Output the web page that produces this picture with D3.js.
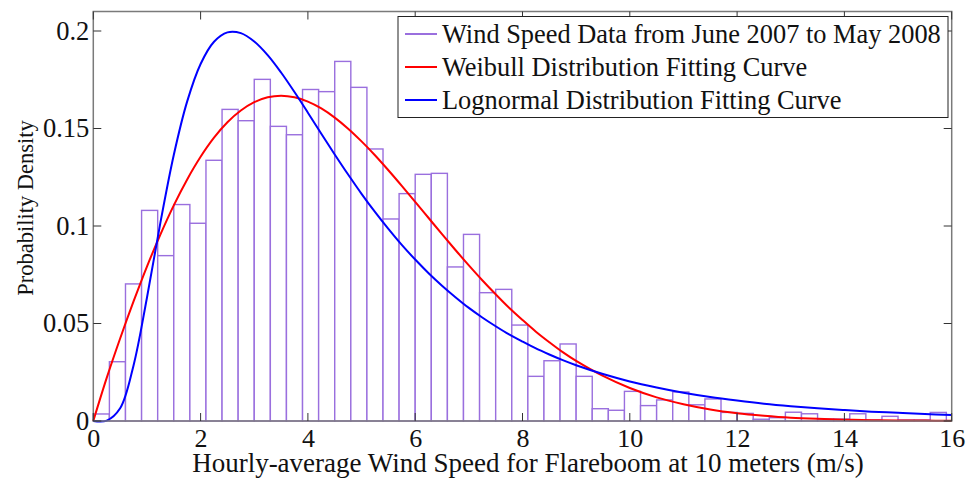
<!DOCTYPE html>
<html>
<head>
<meta charset="utf-8">
<script src="https://cdn.jsdelivr.net/npm/d3@7"></script>
<style>
  body { margin: 0; background: #fff; }
  text { font-family: "Liberation Serif", "Times New Roman", serif; fill: #111; }
</style>
</head>
<body>
<div id="chart"></div>
<script>

// histogram: bins of 0.3 m/s starting at 0
let binWidth = 0.3;
let binDensity = [
  0.0036, 0.0304, 0.0703, 0.108, 0.0848, 0.111, 0.1014, 0.1337, 0.1598, 0.154,
  0.1752, 0.1511, 0.1468, 0.170, 0.1689, 0.1844, 0.1711, 0.1395, 0.1036, 0.1166,
  0.1265, 0.127, 0.079, 0.0957, 0.0658, 0.0675, 0.0492, 0.0229, 0.0309, 0.0395,
  0.0229, 0.0063, 0.0055, 0.0152, 0.0079, 0.0108, 0.0149, 0.0083, 0.0113, 0.0044,
  0.0039, 0.0009, 0.0017, 0.0045, 0.0037, 0.0010, 0.0010, 0.0037, 0.0005, 0.0024,
  0.0005, 0.0005, 0.0044
];

// fitted curves
let curveX = [
  0, 0.25, 0.5, 0.75, 1, 1.25, 1.5, 1.75, 2, 2.25, 2.5, 2.75, 3, 3.25, 3.5, 3.75,
  4, 4.25, 4.5, 4.75, 5, 5.25, 5.5, 5.75, 6, 6.25, 6.5, 6.75, 7, 7.25, 7.5, 7.75,
  8, 8.25, 8.5, 8.75, 9, 9.5, 10, 10.5, 11, 11.5, 12, 12.5, 13, 13.5, 14, 14.5,
  15, 15.5, 16
];
let weibullY = [
  0, 0.0221, 0.0423, 0.0613, 0.0792, 0.0956, 0.1106, 0.1239, 0.1355, 0.1453, 0.1532, 0.1592, 0.1635, 0.1660, 0.1668, 0.1660,
  0.1638, 0.1603, 0.1556, 0.1499, 0.1434, 0.1363, 0.1286, 0.1206, 0.1124, 0.1041, 0.0958, 0.0877, 0.0798, 0.0722, 0.0650, 0.0581,
  0.0518, 0.0458, 0.0404, 0.0353, 0.0308, 0.0231, 0.0169, 0.0121, 0.0086, 0.0059, 0.0040, 0.0027, 0.0017, 0.0011, 0.0007, 0.0004,
  0.0003, 0.0002, 0.0001
];
let lognormY = [
  0, 0.0002, 0.0065, 0.0285, 0.0632, 0.1016, 0.1364, 0.1639, 0.1831, 0.1945, 0.1993, 0.1989, 0.1946, 0.1876, 0.1787, 0.1687,
  0.1581, 0.1473, 0.1367, 0.1264, 0.1165, 0.1072, 0.0985, 0.0903, 0.0828, 0.0758, 0.0694, 0.0635, 0.0580, 0.0531, 0.0486, 0.0444,
  0.0407, 0.0372, 0.0341, 0.0312, 0.0286, 0.0241, 0.0203, 0.0172, 0.0145, 0.0123, 0.0105, 0.0089, 0.0076, 0.0065, 0.0056, 0.0048,
  0.0042, 0.0036, 0.0031
];

let xTicks = [0, 2, 4, 6, 8, 10, 12, 14, 16];
let yTicks = [0, 0.05, 0.1, 0.15, 0.2];
let yTickLabels = ["0", "0.05", "0.1", "0.15", "0.2"];

let legendLabels = [
  "Wind Speed Data from June 2007 to May 2008",
  "Weibull Distribution Fitting Curve",
  "Lognormal Distribution Fitting Curve"
];
let histColor = "#9a6fde";
let legendColors = [histColor, "#ff0000", "#0000ff"];

let width = 969, height = 480;
let plot = {left: 93.3, right: 951.7, top: 11.5, bottom: 421};

let xScale = d3.scaleLinear().domain([0, 16]).range([plot.left, plot.right]);
let yScale = d3.scaleLinear().domain([0, 0.21]).range([plot.bottom, plot.top]);

let svg = d3.select("#chart").append("svg")
    .attr("width", width)
    .attr("height", height);

// bars
svg.selectAll(".bar")
    .data(binDensity)
    .enter().append("rect")
    .attr("class", "bar")
    .attr("x", function(d, i) { return xScale(i * binWidth); })
    .attr("y", function(d) { return yScale(d); })
    .attr("width", function() { return xScale(binWidth) - xScale(0); })
    .attr("height", function(d) { return yScale(0) - yScale(d); })
    .attr("fill", "#fff")
    .attr("stroke", histColor)
    .attr("stroke-width", 1.4);

// curves
let line = function(ys) {
  return d3.line()
    .x(function(d, i) { return xScale(curveX[i]); })
    .y(function(d) { return yScale(d); })
    .curve(d3.curveCatmullRom)(ys);
};
svg.append("path").attr("d", line(weibullY))
    .attr("fill", "none").attr("stroke", "#ff0000").attr("stroke-width", 2);
svg.append("path").attr("d", line(lognormY))
    .attr("fill", "none").attr("stroke", "#0000ff").attr("stroke-width", 2);

// frame
svg.append("rect")
    .attr("x", plot.left).attr("y", plot.top)
    .attr("width", plot.right - plot.left).attr("height", plot.bottom - plot.top)
    .attr("fill", "none").attr("stroke", "#7a7a7a").attr("stroke-width", 1.5);

// axes with inward ticks on all sides
let tickLen = 8;
let xAxisBottom = d3.axisBottom(xScale).tickValues(xTicks).tickSize(0).tickPadding(8).tickFormat(d3.format("d"));
let gx = svg.append("g")
    .attr("transform", "translate(0," + plot.bottom + ")")
    .call(xAxisBottom);
gx.select(".domain").remove();
gx.selectAll("text").attr("font-size", 26).attr("font-family", "Liberation Serif").attr("fill", "#111");

let yAxisLeft = d3.axisLeft(yScale).tickValues(yTicks).tickSize(0).tickPadding(4)
    .tickFormat(function(d, i) { return yTickLabels[i]; });
let gy = svg.append("g")
    .attr("transform", "translate(" + plot.left + ",0)")
    .call(yAxisLeft);
gy.select(".domain").remove();
gy.selectAll("text").attr("font-size", 26.5).attr("font-family", "Liberation Serif").attr("fill", "#111");

let tickG = svg.append("g").attr("stroke", "#333").attr("stroke-width", 1);
xTicks.forEach(function(t) {
  tickG.append("line").attr("x1", xScale(t)).attr("x2", xScale(t))
    .attr("y1", plot.bottom).attr("y2", plot.bottom - tickLen);
  tickG.append("line").attr("x1", xScale(t)).attr("x2", xScale(t))
    .attr("y1", plot.top).attr("y2", plot.top + tickLen);
});
yTicks.forEach(function(t) {
  tickG.append("line").attr("x1", plot.left).attr("x2", plot.left + tickLen)
    .attr("y1", yScale(t)).attr("y2", yScale(t));
  tickG.append("line").attr("x1", plot.right).attr("x2", plot.right - tickLen)
    .attr("y1", yScale(t)).attr("y2", yScale(t));
});

// axis titles
svg.append("text")
    .attr("x", 528)
    .attr("y", 472)
    .attr("text-anchor", "middle")
    .attr("font-size", 27)
    .text("Hourly-average Wind Speed for Flareboom at 10 meters (m/s)");

svg.append("text")
    .attr("transform", "translate(33,208) rotate(-90)")
    .attr("text-anchor", "middle")
    .attr("font-size", 22.5)
    .text("Probability Density");

// legend
let legend = svg.append("g");
legend.append("rect")
    .attr("x", 398).attr("y", 16.5)
    .attr("width", 550).attr("height", 101)
    .attr("fill", "#fff").attr("stroke", "#222").attr("stroke-width", 1);
legendLabels.forEach(function(lab, i) {
  let cy = 34 + i * 33;
  legend.append("line")
    .attr("x1", 405).attr("x2", 437)
    .attr("y1", cy).attr("y2", cy)
    .attr("stroke", legendColors[i]).attr("stroke-width", 2);
  legend.append("text")
    .attr("x", 442).attr("y", cy + 9)
    .attr("font-size", 26.4)
    .text(lab);
});
</script>
</body>
</html>
